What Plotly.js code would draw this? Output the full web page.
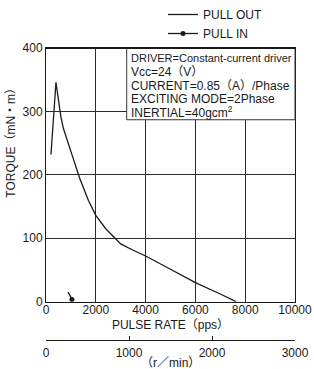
<!DOCTYPE html>
<html>
<head>
<meta charset="utf-8">
<script src="https://cdn.plot.ly/plotly-3.0.1.min.js"></script>
<style>html,body{margin:0;padding:0;background:#fff;}#chart{width:314px;height:369px;}</style>
</head>
<body>
<div id="chart"></div>
<script>
// ---- data ----
const pullOutPps = [200, 400, 600, 700, 1000, 1350, 1700, 2000, 2400, 2800, 3000, 3500, 4000, 5000, 6000, 7000, 7630];
const pullOutTorque = [232, 346, 291, 273, 237, 195, 160, 136, 115, 98, 91, 81, 72, 51, 30, 12, 0];
const pullInPps = [1040, 890];
const pullInTorque = [3.5, 15];
const ppsTicks = [0, 2000, 4000, 6000, 8000, 10000];
const torqueTicks = [0, 100, 200, 300, 400];
const rpmTicks = [0, 1000, 2000, 3000];
const infoLines = [
  "DRIVER=Constant-current driver",
  "Vcc=24（V）",
  "CURRENT=0.85（A）/Phase",
  "EXCITING MODE=2Phase",
  "INERTIAL=40gcm<sup>2</sup>"
];

// ---- layout helpers (pixel -> paper) ----
const W = 314, H = 369;
const mL = 46, mR = 19, mT = 47, mB = 29;
const pw = W - mL - mR, ph = H - mT - mB;
const px = x => (x - mL) / pw;
const py = y => (H - mB - y) / ph;
const FONT = "Liberation Sans, Arial, Noto Sans CJK JP, sans-serif";
const INK = '#1a1a1a';

const traces = [
  {x: pullOutPps, y: pullOutTorque, type: 'scatter', mode: 'lines', name: 'PULL OUT',
   line: {color: INK, width: 1.3}, hoverinfo: 'skip'},
  {x: pullInPps, y: pullInTorque, type: 'scatter', mode: 'lines+markers', name: 'PULL IN',
   line: {color: INK, width: 1.3},
   marker: {color: pullInPps.map((v, i) => i === 0 ? INK : 'rgba(0,0,0,0)'), size: 5},
   hoverinfo: 'skip'},
  {x: rpmTicks, y: rpmTicks.map(() => null), xaxis: 'x2', yaxis: 'y', type: 'scatter', mode: 'lines',
   showlegend: false, hoverinfo: 'skip'}
];

const infoY = [56.7, 70.7, 85, 97.7, 111];
const annotations = infoLines.map((t, i) => ({
  text: t, xref: 'paper', yref: 'paper', x: px(129), y: py(infoY[i]),
  xanchor: 'left', yanchor: 'middle', showarrow: false,
  font: {family: FONT, size: i === 0 ? 11 : 12, color: INK}
}));
annotations.push({text: 'TORQUE（mN・m）', xref: 'paper', yref: 'paper', x: px(11), y: py(139),
  textangle: -90, showarrow: false, xanchor: 'center', yanchor: 'middle',
  font: {family: FONT, size: 12, color: INK}});
annotations.push({text: '（r／min）', xref: 'paper', yref: 'paper', x: px(170), y: py(363),
  showarrow: false, xanchor: 'center', yanchor: 'middle',
  font: {family: FONT, size: 12, color: INK}});

const layout = {
  width: W, height: H,
  margin: {l: mL, r: mR, t: mT, b: mB},
  paper_bgcolor: '#fff', plot_bgcolor: '#fff',
  font: {family: FONT, size: 12, color: INK},
  showlegend: true,
  legend: {xref: 'paper', yref: 'container', x: px(163), y: 1, xanchor: 'left', yanchor: 'top',
    bgcolor: 'rgba(0,0,0,0)', font: {family: FONT, size: 12, color: INK}, tracegroupgap: 0},
  xaxis: {range: [0, 10000], tickvals: ppsTicks, ticktext: ppsTicks.map(String),
    showgrid: true, gridcolor: '#2a2a2a', gridwidth: 1, zeroline: false,
    showline: true, mirror: true, linecolor: INK, linewidth: 1, ticks: '', ticklabelstandoff: -3,
    title: {text: 'PULSE RATE（pps）', standoff: 4, font: {family: FONT, size: 12, color: INK}}},
  yaxis: {range: [0, 400], tickvals: torqueTicks, domain: [py(301.5), 1],
    showgrid: true, gridcolor: '#2a2a2a', gridwidth: 1, zeroline: false,
    showline: true, mirror: true, linecolor: INK, linewidth: 1, ticks: ''},
  xaxis2: {overlaying: 'x', anchor: 'free', position: 0, side: 'bottom', range: [0, 3000],
    tickvals: rpmTicks, showgrid: false, zeroline: false, showline: true, linecolor: INK,
    linewidth: 1, ticks: 'inside', ticklen: 4, tickcolor: INK, tickwidth: 1, ticklabelstandoff: 2},
  shapes: [{type: 'rect', xref: 'paper', yref: 'paper', x0: px(126.7), x1: 1, y0: py(119), y1: 1,
    line: {color: '#333', width: 1}, fillcolor: '#fff', layer: 'above'},
    {type: 'line', xref: 'paper', yref: 'paper', x0: 0, x1: 1, y0: 1, y1: 1,
    line: {color: INK, width: 2}}],
  annotations: annotations
};

Plotly.newPlot('chart', traces, layout, {staticPlot: true, displayModeBar: false});
</script>
</body>
</html>
